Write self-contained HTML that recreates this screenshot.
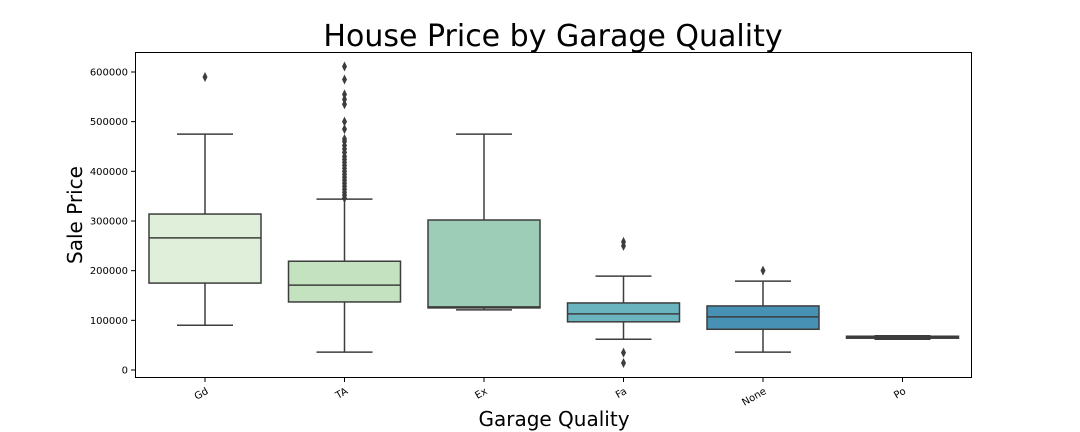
<!DOCTYPE html>
<html><head><meta charset="utf-8"><style>
body{margin:0;background:#fff;}
svg{display:block;font-family:"DejaVu Sans","Liberation Sans",sans-serif;}
</style></head><body>
<svg id="chart" width="1080" height="432">
<text x="553" y="46" font-size="30" text-anchor="middle" fill="#000">House Price by Garage Quality</text>
<text x="554" y="426" font-size="20" text-anchor="middle">Garage Quality</text>
<text transform="translate(82,215) rotate(-90)" font-size="20" text-anchor="middle">Sale Price</text>
<g id="plot"></g>
<rect x="135.5" y="52.5" width="836" height="325" fill="none" stroke="#000" stroke-width="1"/>
</svg>
<script>
const categories=["Gd","TA","Ex","Fa","None","Po"];
const lowW=[90000,36000,121000,62000,36000,62000];
const q1=[175000,137000,125000,97000,82000,64000];
const med=[266000,171000,127000,113000,107000,66000];
const q3=[314000,219000,302000,135000,129000,68000];
const highW=[475000,344000,475000,189000,179000,69000];
const outliers=[[590000],[346000,352000,358000,364000,370000,376000,382000,388000,394000,400000,406000,412000,418000,424000,430000,438000,445000,452000,460000,465000,485000,500000,535000,545000,555000,585000,611000],[],[250000,258000,35000,14000],[200000],[]];
const yTicks=[0,100000,200000,300000,400000,500000,600000];
const colors=["#e0efda","#c4e2c0","#9dcdb7","#6ab4c0","#4791b5","#2b6a9b"];
const NS="http://www.w3.org/2000/svg";
const g=document.getElementById('plot');
const y=v=>370-v*298/600000;
const x=i=>205+i*139.5;
function mk(t,a,p){const e=document.createElementNS(NS,t);for(const k in a)e.setAttribute(k,a[k]);(p||g).appendChild(e);return e;}
yTicks.forEach(v=>{
 const t=mk('line',{x1:131,x2:135,y1:y(v),y2:y(v),stroke:'#000'});
 
 
 const l=mk('text',{x:128,y:y(v)+3.5,'font-size':10,'text-anchor':'end'});l.textContent=v;
 
 
});
categories.forEach((c,i)=>{
 const cx=x(i),hw=56,col='#3d3d3d';
 const tk=mk('line',{x1:cx,x2:cx,y1:378,y2:382,stroke:'#000'});
 
 
 const l=mk('text',{transform:`translate(${cx+4},${393}) rotate(-30)`,'font-size':10,'text-anchor':'end'});l.textContent=c;
 
 
 const bg=mk('g',{});
 
 
 mk('line',{x1:cx,x2:cx,y1:y(highW[i]),y2:y(q3[i]),stroke:col,'stroke-width':1.5},bg);
 mk('line',{x1:cx,x2:cx,y1:y(lowW[i]),y2:y(q1[i]),stroke:col,'stroke-width':1.5},bg);
 mk('line',{x1:cx-28,x2:cx+28,y1:y(highW[i]),y2:y(highW[i]),stroke:col,'stroke-width':1.5},bg);
 mk('line',{x1:cx-28,x2:cx+28,y1:y(lowW[i]),y2:y(lowW[i]),stroke:col,'stroke-width':1.5},bg);
 mk('rect',{x:cx-hw,y:y(q3[i]),width:2*hw,height:Math.max(1,y(q1[i])-y(q3[i])),fill:colors[i],stroke:col,'stroke-width':1.5},bg);
 mk('line',{x1:cx-hw,x2:cx+hw,y1:y(med[i]),y2:y(med[i]),stroke:col,'stroke-width':1.5},bg);
 outliers[i].forEach(v=>{
  const o=mk('path',{d:`M${cx} ${y(v)-5}L${cx+2.5} ${y(v)}L${cx} ${y(v)+5}L${cx-2.5} ${y(v)}Z`,fill:'#3d3d3d'},bg);
  
  
 });
});
</script>
</body></html>
